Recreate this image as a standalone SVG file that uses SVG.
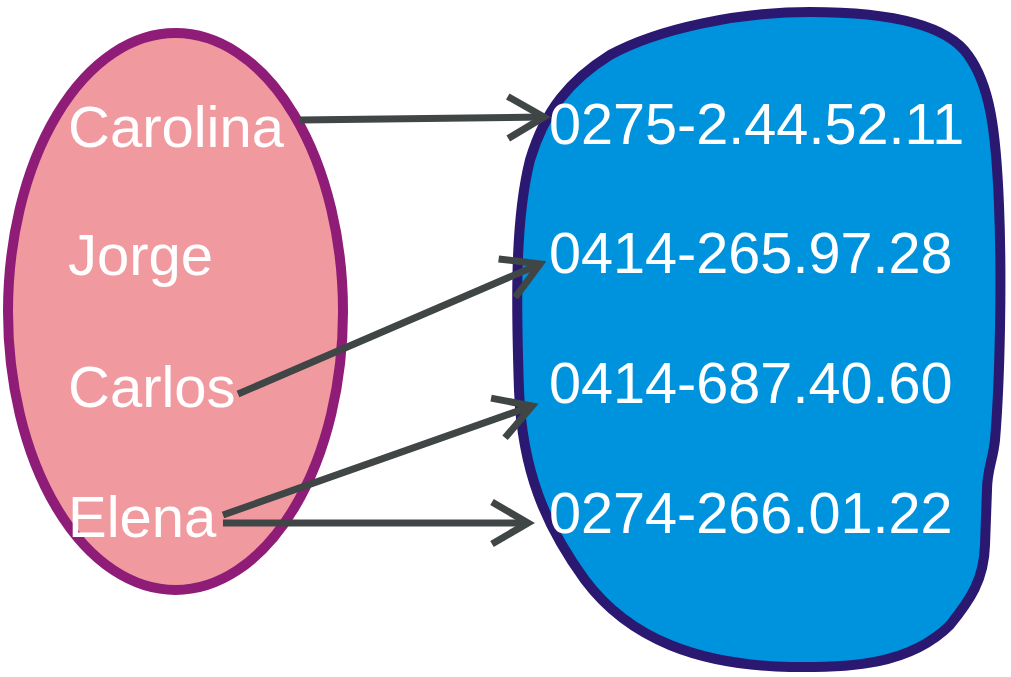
<svg xmlns="http://www.w3.org/2000/svg" width="1011" height="677" viewBox="0 0 1011 677">
<style>
.lbl{font-family:"Liberation Sans",Arial,sans-serif;font-size:58px;fill:#ffffff}
.num{font-family:"Liberation Sans",Arial,sans-serif;font-size:57.6px;fill:#ffffff}
.conn{stroke:#404546;stroke-width:7;fill:none;marker-end:url(#chev)}
</style>
<defs>
<marker id="chev" markerUnits="userSpaceOnUse" markerWidth="60" markerHeight="60" viewBox="-45 -30 50 60" refX="0" refY="0" orient="auto" overflow="visible">
<path d="M-36 -21 L0 0 L-36 21" fill="none" stroke="#404546" stroke-width="7" stroke-linejoin="miter"/>
</marker>
</defs>
<rect width="1011" height="677" fill="#ffffff"/>
<g id="domain">
<ellipse cx="175.5" cy="311.5" rx="167.5" ry="278.5" fill="#f09aa0" stroke="#8f1d78" stroke-width="10"/>
<text class="lbl" x="68" y="147">Carolina</text>
<text class="lbl" x="68" y="275">Jorge</text>
<text class="lbl" x="68" y="407">Carlos</text>
<text class="lbl" x="68" y="537">Elena</text>
</g>
<g id="codomain">
<path d="M810 12 C880 12 945 22 968 55 C990 85 996 130 999 205 C1002 280 1000 380 995 440 C993 460 987 470 987 490 L985 545 C984 580 970 600 950 625 C910 665 850 668 790 667 C700 665 630 640 585 580 C545 525 522 470 519 390 C516 300 515 220 530 160 C545 110 570 80 610 55 C660 28 740 12 810 12 Z" fill="#0093dd" stroke="#2b1870" stroke-width="10" stroke-linejoin="round"/>
<text class="num" x="549" y="144">0275-2.44.52.11</text>
<text class="num" x="549" y="273">0414-265.97.28</text>
<text class="num" x="549" y="403">0414-687.40.60</text>
<text class="num" x="549" y="533">0274-266.01.22</text>
</g>
<g id="connectors">
<line class="conn" x1="300" y1="120" x2="544" y2="117"/>
<line class="conn" x1="238" y1="394" x2="540" y2="264"/>
<line class="conn" x1="223" y1="515" x2="532" y2="406"/>
<line class="conn" x1="223" y1="523" x2="528" y2="523"/>
</g>
</svg>
